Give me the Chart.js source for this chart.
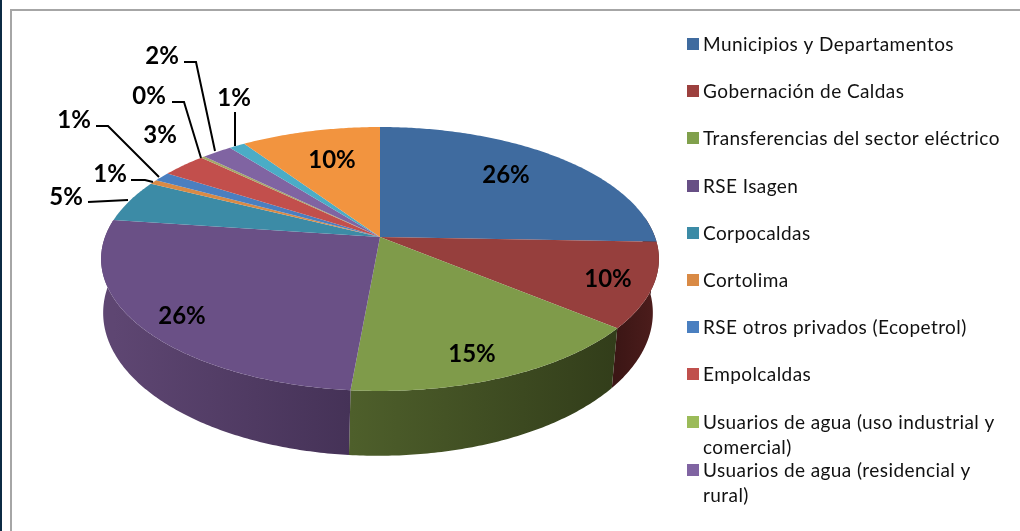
<!DOCTYPE html>
<html>
<head>
<meta charset="utf-8">
<style>
  html, body { margin: 0; padding: 0; background: #fff; }
  #chart { display: block; }
</style>
<script src="https://cdn.jsdelivr.net/npm/chart.js@4"></script>
</head>
<body>
<canvas id="chart" width="1020" height="531"></canvas>
<script>
const categories = ['Municipios y Departamentos', 'Gobernación de Caldas', 'Transferencias del sector eléctrico',
  'RSE Isagen', 'Corpocaldas', 'Cortolima', 'RSE otros privados (Ecopetrol)', 'Empolcaldas',
  'Usuarios de agua (uso industrial y comercial)', 'Usuarios de agua (residencial y rural)',
  'Otros 1', 'Otros 2'];
const shares = [25.6, 10.4, 15.45, 25.75, 5.2, 0.55, 1.15, 3.05, 0.25, 2.05, 1.1, 9.5];
const colors = ['#3f6b9f', '#963f3d', '#7f9b4a', '#6a5086', '#3c8ba6', '#d98a45',
  '#4a7fc0', '#c24f4c', '#a5a868', '#8064a2', '#4bacc6', '#f2943f'];

// wall shade at the left and right end of each visible slice
const wallColors = {
  0: ['#4a1d1c', '#4a1d1c'],
  1: ['#3c1615', '#4d1d1c'],
  2: ['#4e5f2b', '#323d1a'],
  3: ['#5e4672', '#453257']
};

// legend only lists the first ten, the chart was cut off there
const legendLines = [
  ['Municipios y Departamentos'], ['Gobernación de Caldas'], ['Transferencias del sector eléctrico'],
  ['RSE Isagen'], ['Corpocaldas'], ['Cortolima'], ['RSE otros privados (Ecopetrol)'], ['Empolcaldas'],
  ['Usuarios de agua (uso industrial y', 'comercial)'], ['Usuarios de agua (residencial y', 'rural)']
];
const legendY = [44, 91, 138, 186, 233, 280, 327, 374, 422, 470];
const legendColors = ['#3f6b9f', '#9c403e', '#80a04c', '#674f85', '#3c8ba6', '#d98a45',
  '#4a7fc0', '#c0504d', '#9bbb59', '#8064a2'];

// label centre and leader line for each slice
const labelX = [506, 608, 472, 182, 66, 110, 74, 160, 149, 162, 234, 332];
const labelY = [175, 279, 354, 316, 197, 174, 120, 135, 96, 56, 98, 160];
const leaders = {
  4: [[88, 202], [128, 200]],
  5: [[131, 180], [145, 180], [153, 182]],
  6: [[96, 126], [108, 126], [159, 177]],
  8: [[172, 102], [184, 102], [201, 158]],
  9: [[184, 62], [196, 62], [215, 151]],
  10: [[235, 112], [235, 146]]
};

// tilted view, top and bottom rim have their own projection
const topRim = { cx: 380, cy: 237, rx: 275, ry: 128.3, k: 1 / 6 };
const bottomRim = { cx: 378, cy: 289, rx: 271, ry: 139, k: 1 / 6 };

function project(rim, a) {
  const u = Math.cos(a), v = Math.sin(a), w = 1 - rim.k * v;
  return [rim.cx + rim.rx * u / w, rim.cy + rim.ry * v / w];
}

function rimPath(ctx, rim, from, to) {
  const steps = Math.max(2, Math.ceil(Math.abs(to - from) * 90));
  for (let i = 0; i <= steps; i++) {
    const p = project(rim, from + (to - from) * i / steps);
    ctx.lineTo(p[0], p[1]);
  }
}

const tiltedPie = {
  id: 'tiltedPie',
  beforeDatasetsDraw(chart) {
    const ctx = chart.ctx;
    const arcs = chart.getDatasetMeta(0).data;
    ctx.save();
    arcs.forEach((arc, i) => {
      if (!wallColors[i]) return;
      // only the part facing us
      const from = Math.max(arc.startAngle, -0.15), to = Math.min(arc.endAngle, Math.PI + 0.15);
      if (to <= from) return;
      const xs = [project(topRim, from)[0], project(topRim, to)[0]];
      const g = ctx.createLinearGradient(Math.min(...xs), 0, Math.max(...xs), 0);
      g.addColorStop(0, wallColors[i][0]);
      g.addColorStop(1, wallColors[i][1]);
      ctx.fillStyle = g;
      ctx.beginPath();
      rimPath(ctx, topRim, from, to);
      rimPath(ctx, bottomRim, to, from);
      ctx.closePath();
      ctx.fill();
    });
    arcs.forEach((arc, i) => {
      ctx.fillStyle = colors[i];
      ctx.beginPath();
      ctx.moveTo(topRim.cx, topRim.cy);
      rimPath(ctx, topRim, arc.startAngle, arc.endAngle);
      ctx.closePath();
      ctx.fill();
    });
    ctx.restore();
    return false;
  },
  afterDraw(chart) {
    const ctx = chart.ctx;
    ctx.save();
    // frame
    ctx.fillStyle = '#a6a6a6';
    ctx.fillRect(10, 9, 1010, 2);
    ctx.fillRect(10, 9, 2, 522);
    ctx.fillStyle = '#0b2a44';
    ctx.fillRect(0, 0, 2, 531);

    ctx.strokeStyle = '#000';
    ctx.lineWidth = 2;
    Object.values(leaders).forEach(line => {
      ctx.beginPath();
      line.forEach(p => ctx.lineTo(p[0], p[1]));
      ctx.stroke();
    });

    ctx.fillStyle = '#000';
    ctx.font = 'bold 24px Lato';
    ctx.textAlign = 'center';
    ctx.textBaseline = 'middle';
    shares.forEach((s, i) => ctx.fillText(Math.round(s) + '%', labelX[i], labelY[i]));

    ctx.font = '19px Lato';
    ctx.letterSpacing = '0.42px';
    ctx.textAlign = 'left';
    legendLines.forEach((lines, i) => {
      ctx.fillStyle = legendColors[i];
      ctx.fillRect(687, legendY[i] - 6, 12, 12);
      ctx.fillStyle = '#111';
      lines.forEach((t, j) => ctx.fillText(t, 703, legendY[i] + 1 + j * 25));
    });
    ctx.restore();
  }
};

new Chart(document.getElementById('chart'), {
  type: 'pie',
  data: {
    labels: categories,
    datasets: [{ data: shares, backgroundColor: colors, borderWidth: 0 }]
  },
  options: {
    responsive: false,
    animation: false,
    plugins: { legend: { display: false }, tooltip: { enabled: false } }
  },
  plugins: [tiltedPie]
});
</script>
</body>
</html>
